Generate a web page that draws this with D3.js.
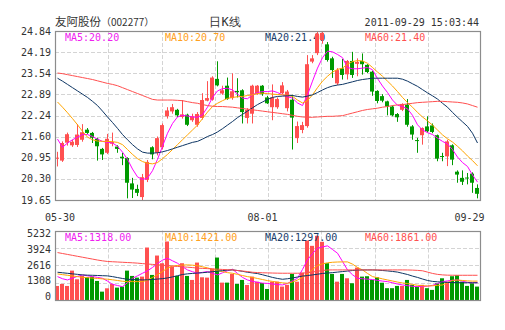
<!DOCTYPE html>
<html><head><meta charset="utf-8">
<script src="https://cdn.jsdelivr.net/npm/d3@7/dist/d3.min.js"></script>
<style>
html,body{margin:0;padding:0;background:#fff;}
svg{display:block;}
text{font-family:"DejaVu Sans Mono",monospace;}
</style></head><body>
<svg id="chart" width="505" height="330"></svg>
<script>
// 友阿股份 (002277) daily candles, 2011-05-30 .. 2011-09-29
const openP  = [20.92,20.86,21.41,21.33,21.34,21.50,21.81,21.71,21.53,21.22,21.10,21.38,21.29,20.98,20.94,20.16,19.99,19.74,20.27,21.27,21.10,21.27,22.22,22.37,22.42,22.20,22.27,22.10,21.96,22.17,22.70,22.73,23.37,22.92,23.16,22.78,23.00,23.02,22.17,22.30,22.90,23.16,22.80,22.50,22.50,22.93,22.47,22.73,21.55,21.80,21.92,23.90,24.16,24.56,24.43,24.00,23.23,23.69,23.51,23.92,23.83,23.92,23.80,23.59,23.00,22.84,22.68,22.52,22.29,22.42,22.58,21.91,21.49,21.64,21.91,21.94,21.64,21.00,20.99,21.33,20.52,20.33,20.34,20.46,20.02];
const closeP = [20.95,21.40,21.67,21.44,21.66,21.73,21.71,21.56,21.30,21.05,21.53,21.43,21.22,20.93,20.18,19.97,19.87,20.35,20.82,21.05,21.55,21.95,22.40,22.50,22.25,22.28,21.96,22.22,22.29,22.72,22.78,23.41,23.17,23.02,22.75,22.99,22.96,22.35,22.42,23.16,23.16,22.90,22.62,22.80,22.75,23.17,22.98,22.18,21.92,21.95,23.82,24.00,24.76,24.78,23.95,23.64,23.64,23.49,23.92,23.49,23.89,23.82,23.58,22.98,22.69,22.70,22.52,22.25,22.19,22.60,21.96,21.66,21.47,21.86,21.76,21.74,20.92,20.99,21.45,20.89,20.43,20.21,20.33,20.18,19.84];
const highP  = [21.13,21.45,21.72,21.50,21.98,21.98,21.86,21.74,21.56,21.25,21.68,21.72,21.33,21.10,20.96,20.33,20.12,20.45,20.88,21.30,21.60,22.00,22.50,22.60,22.45,22.72,22.30,22.30,22.35,22.93,23.30,23.45,23.91,23.16,23.41,23.54,23.39,23.05,22.47,23.19,23.18,23.18,22.85,23.20,22.80,23.27,23.03,22.88,22.06,22.05,24.10,24.10,24.84,24.84,24.50,24.05,23.70,23.98,23.95,24.20,24.00,24.15,23.82,23.62,23.02,22.90,22.70,22.55,22.32,22.62,22.75,21.95,21.56,21.88,22.22,22.00,21.66,21.10,21.50,21.36,20.56,20.56,20.48,20.50,20.13];
const lowP   = [20.68,20.82,21.32,21.28,21.28,21.44,21.68,21.40,20.86,20.88,21.06,21.30,21.10,20.72,19.70,19.71,19.77,19.65,20.20,20.90,21.02,21.20,22.15,22.30,22.20,22.15,21.92,22.05,21.90,22.12,22.68,22.70,23.14,22.88,22.73,22.73,22.80,22.00,22.00,22.00,22.88,22.85,22.60,22.10,22.45,22.90,22.37,21.20,21.40,21.70,21.87,23.85,24.10,24.45,23.90,23.40,23.18,23.35,23.35,23.40,23.45,23.50,23.55,22.85,22.62,22.65,22.25,22.22,22.05,22.38,21.90,21.50,21.10,21.35,21.72,21.70,20.84,20.84,20.69,20.72,20.18,20.11,20.13,19.87,19.70];
const volume = [1057,1208,1057,2212,1560,1812,1711,1762,1434,629,881,1208,931,1007,2212,1812,1686,1762,3951,1887,3347,2768,4405,2516,1812,2768,1812,1510,2818,1711,1686,2365,3196,1308,1308,1963,1208,1510,1133,1760,1380,1280,830,1380,1380,1010,1140,1963,1380,2060,4480,4077,4830,4380,2770,1963,1380,1963,1636,1260,2440,1760,1790,1510,1710,1300,890,890,1060,1060,1510,1140,1010,1140,890,760,1260,1636,1380,1790,1860,1380,1060,1260,1010];

// moving averages of price
const ma5  = [21.52,21.27,21.40,21.50,21.58,21.66,21.66,21.60,21.52,21.45,21.42,21.40,21.30,21.12,20.90,20.60,20.36,20.28,20.32,20.55,20.90,21.30,21.70,22.00,22.20,22.25,22.23,22.20,22.19,22.27,22.50,22.80,23.00,23.07,23.08,23.03,22.90,22.78,22.76,22.88,22.95,22.98,22.98,23.00,22.95,22.88,22.82,22.78,22.63,22.55,22.88,23.30,23.70,24.02,24.22,24.20,24.12,24.02,23.72,23.68,23.68,23.70,23.72,23.65,23.38,23.15,22.95,22.72,22.56,22.52,22.45,22.25,21.96,21.80,21.72,21.66,21.55,21.45,21.37,21.20,20.97,20.80,20.68,20.42,20.20];
const ma10 = [22.66,22.50,22.33,22.15,21.96,21.76,21.58,21.50,21.46,21.45,21.45,21.44,21.42,21.35,21.20,21.05,20.92,20.83,20.78,20.76,20.80,20.92,21.05,21.20,21.35,21.50,21.65,21.80,21.95,22.15,22.35,22.52,22.62,22.70,22.77,22.80,22.82,22.83,22.86,22.88,22.92,22.93,22.92,22.90,22.89,22.88,22.86,22.83,22.72,22.63,22.70,22.88,23.10,23.30,23.45,23.58,23.66,23.70,23.82,23.90,23.93,23.92,23.85,23.72,23.58,23.45,23.30,23.15,22.98,22.80,22.64,22.50,22.34,22.20,22.08,21.95,21.80,21.65,21.53,21.43,21.30,21.16,21.00,20.86,20.70];
const ma20 = [23.39,23.30,23.20,23.10,23.00,22.90,22.80,22.68,22.55,22.38,22.20,22.03,21.85,21.66,21.50,21.35,21.22,21.12,21.09,21.09,21.10,21.13,21.17,21.22,21.27,21.32,21.37,21.42,21.45,21.52,21.60,21.66,21.74,21.84,21.95,22.06,22.18,22.28,22.38,22.48,22.58,22.66,22.74,22.80,22.83,22.84,22.85,22.86,22.83,22.81,22.84,22.88,22.95,23.03,23.10,23.15,23.18,23.20,23.24,23.28,23.32,23.35,23.37,23.39,23.39,23.39,23.39,23.39,23.39,23.36,23.30,23.22,23.14,23.04,22.94,22.85,22.75,22.62,22.50,22.34,22.19,22.05,21.91,21.70,21.40];
const ma60 = [23.55,23.53,23.50,23.47,23.44,23.41,23.38,23.35,23.31,23.27,23.23,23.20,23.16,23.10,23.04,22.98,22.92,22.86,22.80,22.74,22.72,22.72,22.72,22.72,22.71,22.70,22.67,22.64,22.62,22.58,22.55,22.53,22.52,22.52,22.51,22.50,22.48,22.46,22.44,22.42,22.40,22.38,22.36,22.34,22.32,22.30,22.28,22.25,22.22,22.20,22.19,22.19,22.20,22.21,22.22,22.22,22.23,22.24,22.28,22.32,22.36,22.40,22.43,22.45,22.47,22.50,22.52,22.55,22.57,22.58,22.60,22.62,22.64,22.65,22.66,22.67,22.68,22.68,22.67,22.66,22.65,22.63,22.60,22.55,22.50];

// moving averages of volume
const vma5  = [1762,1600,1510,1650,1780,1887,1820,1760,1700,1636,1420,1182,1090,1007,1300,1636,1820,2013,2200,2450,2750,3000,3146,2950,2768,2500,2265,2130,2013,2080,2140,2010,1887,2050,2200,2315,2000,1700,1510,1400,1330,1270,1250,1200,1160,1134,1250,1450,1636,2300,3020,3500,3900,4000,4077,3800,3523,2900,2265,1900,1636,1600,1570,1540,1480,1420,1384,1300,1200,1134,1080,1030,1007,1020,1040,1100,1240,1384,1440,1480,1510,1420,1330,1290,1318];
const vma10 = [1963,1910,1860,1810,1760,1711,1680,1650,1620,1590,1565,1520,1470,1410,1384,1384,1384,1384,1500,1700,1900,2150,2400,2550,2600,2630,2643,2620,2580,2500,2420,2300,2220,2140,2060,2013,1930,1840,1760,1700,1620,1540,1460,1400,1340,1290,1260,1350,1500,1700,1950,2300,2600,2720,2800,2840,2860,2868,2868,2700,2450,2265,2000,1762,1680,1590,1510,1430,1350,1280,1240,1170,1110,1070,1057,1070,1100,1133,1300,1480,1500,1470,1440,1420,1421];
const vma20 = [2090,2050,2010,1970,1930,1887,1870,1860,1845,1830,1815,1760,1690,1620,1560,1540,1525,1510,1520,1545,1575,1610,1660,1740,1830,1920,1970,2000,2030,2055,2090,2130,2170,2210,2250,2265,2220,2160,2090,2040,1990,1900,1800,1700,1620,1560,1600,1660,1730,1800,1840,1890,1940,2000,2030,2060,2100,2140,2180,2220,2250,2260,2265,2265,2250,2220,2190,2150,2100,2010,1920,1800,1700,1580,1470,1400,1370,1345,1325,1315,1308,1300,1298,1297,1297];
const vma60 = [3570,3500,3430,3360,3290,3220,3150,3080,3010,2950,2900,2880,2860,2840,2820,2800,2775,2740,2710,2680,2650,2620,2590,2560,2525,2500,2470,2440,2400,2380,2360,2340,2320,2300,2280,2265,2220,2180,2140,2090,2064,2050,2040,2030,2020,2014,2014,2014,2014,2020,2060,2110,2160,2220,2260,2265,2265,2265,2265,2265,2265,2265,2265,2265,2265,2265,2265,2265,2265,2265,2260,2250,2230,2200,2100,2000,1930,1890,1870,1865,1862,1861,1861,1861,1861];

const priceTicks = [24.84,24.19,23.54,22.89,22.24,21.60,20.95,20.30,19.65];
const volTicks = [5232,3924,2616,1308,0];
const dateLabels = ["05-30","08-01","09-29"];
const dateIndex = [0,41,84];

const priceLegend = [["MA5:20.20","#f020f0"],["MA10:20.70","#ffa020"],["MA20:21.40","#173c6a"],["MA60:21.40","#ff5050"]];
const volLegend = [["MA5:1318.00","#f020f0"],["MA10:1421.00","#ffa020"],["MA20:1297.00","#173c6a"],["MA60:1861.00","#ff5050"]];
const titleName = "友阿股份";
const titleCode = "（002277）";
const titleMid = "日K线";
const stamp = "2011-09-29 15:03:44";

const RED = "#ff5050", GREEN = "#009900";
const lineColors = ["#ff00ff","#ffa500","#0d3563","#ff4f4f"];

const svg = d3.select("#chart");
const L = 55, R = 481;
const pTop = 31, pBot = 200, vTop = 230.5, vBot = 300;
const n = closeP.length;

const xs = d3.scaleLinear().domain([0, n]).range([L, L + 5 * n]);
const step = xs(1) - xs(0);
const cx = i => xs(i) + step / 2;
const yP = d3.scaleLinear().domain([19.65, 24.84]).range([pBot, pTop]);
const yV = d3.scaleLinear().domain([0, 5232]).range([vBot, vTop]);
const yVlab = d3.scaleLinear().domain([0, 5232]).range([vBot - 3.3, vTop + 2.8]);

// header
const hdr = svg.append("g").attr("fill", "#333");
const t1 = hdr.append("text").attr("x", L).attr("y", 26);
t1.append("tspan").attr("font-family", "Noto Sans CJK SC").attr("font-size", 11.5).text(titleName);
t1.append("tspan").attr("font-family", "Noto Sans CJK SC").attr("font-size", 10).text(titleCode);
hdr.append("text").attr("x", 225).attr("y", 26).attr("text-anchor", "middle")
  .attr("font-family", "Noto Sans CJK SC").attr("font-size", 12).text(titleMid);
hdr.append("text").attr("x", 479).attr("y", 26).attr("text-anchor", "end")
  .attr("font-size", 10).text(stamp);

function panel(y, ticks, yLab, top, bot, fmt) {
  const g = svg.append("g");
  // horizontal grid
  g.selectAll("line.h").data(ticks.slice(1, -1)).join("line")
    .attr("x1", L).attr("x2", R)
    .attr("y1", d => Math.round(y(d)) + 0.5).attr("y2", d => Math.round(y(d)) + 0.5)
    .attr("stroke", "#d4d4d4").attr("stroke-dasharray", "4,2");
  // vertical grid
  g.selectAll("line.v").data(d3.range(1, 8)).join("line")
    .attr("x1", k => Math.round(L + k * (R - L) / 8) + 0.5)
    .attr("x2", k => Math.round(L + k * (R - L) / 8) + 0.5)
    .attr("y1", top).attr("y2", bot)
    .attr("stroke", "#d4d4d4").attr("stroke-dasharray", "4,2");
  // tick labels
  g.selectAll("text").data(ticks).join("text")
    .attr("x", 51).attr("y", d => yLab(d)).attr("dy", "0.36em")
    .attr("text-anchor", "end").attr("font-size", 10).attr("fill", "#333")
    .text(fmt);
  return g;
}

panel(yP, priceTicks, yP, pTop, pBot, d => d.toFixed(2));
panel(yV, volTicks, yVlab, vTop, vBot, d => String(d));

// legends
function legend(items, yy) {
  svg.append("g").selectAll("text").data(items).join("text")
    .attr("x", (d, i) => 65 + i * 100).attr("y", yy)
    .attr("font-size", 10).attr("fill", d => d[1]).text(d => d[0]);
}
legend(priceLegend, 40.5);

// candles
const col = i => closeP[i] >= openP[i] ? RED : GREEN;
const cg = svg.append("g");
const idx = d3.range(n);
cg.selectAll("line.wick").data(idx).join("line")
  .attr("x1", i => cx(i)).attr("x2", i => cx(i))
  .attr("y1", i => yP(highP[i])).attr("y2", i => yP(lowP[i]))
  .attr("stroke", col).attr("stroke-width", 1);
cg.selectAll("rect").data(idx).join("rect")
  .attr("x", i => xs(i)).attr("width", step - 1)
  .attr("y", i => Math.min(yP(openP[i]), yP(closeP[i])))
  .attr("height", i => Math.max(1, Math.abs(yP(openP[i]) - yP(closeP[i]))))
  .attr("fill", col);

// volume bars
svg.append("g").selectAll("rect").data(idx).join("rect")
  .attr("x", i => xs(i)).attr("width", step - 1)
  .attr("y", i => yV(volume[i])).attr("height", i => vBot - yV(volume[i]))
  .attr("fill", col);
legend(volLegend, 240.5);

// moving-average lines
function maLines(series, y) {
  const line = d3.line().x((d, i) => cx(i)).y(d => y(d));
  svg.append("g").selectAll("path").data(series).join("path")
    .attr("d", line).attr("fill", "none")
    .attr("stroke", (d, k) => lineColors[k]).attr("stroke-width", 1);
}
maLines([ma5, ma10, ma20, ma60], yP);
maLines([vma5, vma10, vma20, vma60], yV);

// frames
[[pTop, pBot], [vTop, vBot]].forEach(([a, b]) => {
  svg.append("rect").attr("x", L + 0.5).attr("y", Math.round(a) + 0.5)
    .attr("width", R - L - 1).attr("height", Math.round(b) - Math.round(a))
    .attr("fill", "none").attr("stroke", "#8c8c8c").attr("stroke-width", 1.2);
});

// date axis
svg.append("g").selectAll("text").data(dateLabels).join("text")
  .attr("x", (d, k) => Math.max(60, Math.min(469.5, cx(dateIndex[k]))))
  .attr("y", 221).attr("text-anchor", "middle")
  .attr("font-size", 10).attr("fill", "#333").text(d => d);
</script>
</body></html>
